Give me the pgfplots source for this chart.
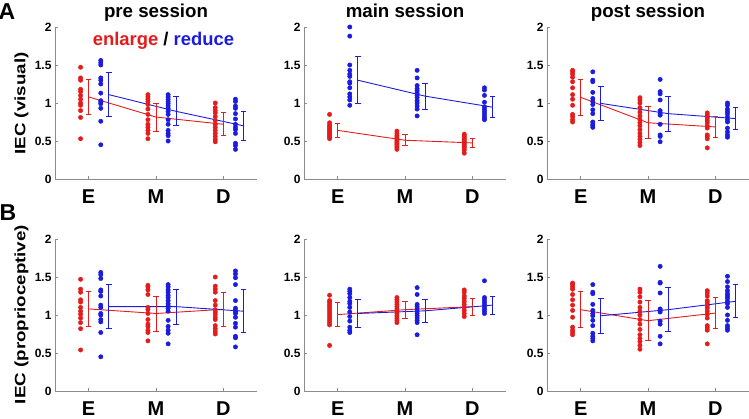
\documentclass[border=0pt]{standalone}
\usepackage{fontspec}
\setmainfont{Liberation Sans}
\usepackage{graphicx}
\usepackage{pgfplots}
\pgfplotsset{compat=1.18}

\definecolor{cR}{RGB}{228,28,28}
\definecolor{cB}{RGB}{28,28,222}
\definecolor{ax}{RGB}{140,140,140}

\newcommand{\fs}[1]{\bfseries\fontsize{#1}{#1}\selectfont}

% one column of subject dots
\newcommand{\grp}[3]{\addplot[only marks, mark=*, mark size=2.2pt, color=#1]
  table[header=false, row sep=\\, x expr=#2, y index=0] {#3};}
% line through the group means
\newcommand{\mline}[2]{\addplot[color=#1, line width=0.9pt, mark=none] coordinates {#2};}
% sd bar: colour, x, low end, high end
\newcommand{\sd}[4]{\addplot[color=#1, line width=0.9pt, mark=-, mark size=2.8pt,
  mark options={solid, line width=0.9pt}] coordinates {(#2,#3) (#2,#4)};}

\pgfplotsset{
  panel/.style={
    scale only axis, width=202pt, height=152pt,
    xmin=0.5, xmax=3.5, ymin=0, ymax=2, clip=false,
    axis lines*=left, axis line style={draw=ax, line width=0.7pt, -},
    xtick={1,2,3}, xticklabels={E,M,D},
    ytick={0,0.5,1,1.5,2}, yticklabels={0,0.5,1,1.5,2},
    tick align=inside, major tick length=3pt,
    tick style={draw=ax, line width=0.6pt},
    xticklabel style={font=\fs{20}, anchor=base, inner sep=0.5pt, yshift=-24pt},
    yticklabel style={font=\fs{12}},
    every axis title/.style={at={(0.5,1)}, anchor=base, yshift=9pt, font=\fs{18.7}},
  },
}

\begin{document}
\begin{tikzpicture}
\useasboundingbox (0,0) rectangle (749pt,418pt);

% ---------- A: visual ----------
\begin{axis}[panel, at={(55pt,239pt)}, anchor=south west, title={pre session}]
\grp{cR}{0.88}{1.47\\1.33\\1.30\\1.18\\1.15\\1.10\\1.05\\1.00\\0.97\\0.90\\0.81\\0.53\\}
\grp{cB}{1.18}{1.56\\1.53\\1.50\\1.33\\1.30\\1.25\\1.13\\1.03\\1.01\\0.99\\0.93\\0.76\\0.45\\}
\grp{cR}{1.88}{1.11\\1.08\\1.05\\1.02\\0.98\\0.92\\0.85\\0.78\\0.72\\0.68\\0.64\\0.60\\0.53\\}
\grp{cB}{2.18}{1.11\\1.08\\1.05\\1.02\\0.99\\0.96\\0.93\\0.89\\0.85\\0.78\\0.72\\0.64\\0.60\\0.57\\0.50\\}
\grp{cR}{2.88}{1.00\\0.94\\0.90\\0.87\\0.82\\0.77\\0.72\\0.68\\0.64\\0.60\\0.56\\0.52\\0.49\\}
\grp{cB}{3.18}{1.05\\1.02\\0.96\\0.93\\0.86\\0.79\\0.72\\0.68\\0.65\\0.60\\0.47\\0.44\\0.39\\}
\mline{cR}{(1,1.08) (2,0.815) (3,0.72)}
\mline{cB}{(1.3,1.11) (2.3,0.89) (3.3,0.70)}
\sd{cR}{1}{0.85}{1.31} \sd{cR}{2}{0.63}{1.00} \sd{cR}{3}{0.57}{0.87}
\sd{cB}{1.3}{0.82}{1.40} \sd{cB}{2.3}{0.70}{1.08} \sd{cB}{3.3}{0.51}{0.89}
\node[font=\fs{18.4}, anchor=base] at (rel axis cs:0.537,0.875)
  {\textcolor{cR}{enlarge} / \textcolor{cB}{reduce}};
\end{axis}

\begin{axis}[panel, at={(304pt,239pt)}, anchor=south west, title={main session}]
\grp{cR}{0.88}{0.85\\0.74\\0.71\\0.69\\0.67\\0.65\\0.63\\0.61\\0.59\\0.57\\0.55\\0.53\\}
\grp{cB}{1.18}{2.00\\1.88\\1.50\\1.43\\1.38\\1.35\\1.28\\1.26\\1.20\\1.12\\1.08\\1.04\\0.97\\}
\grp{cR}{1.88}{0.63\\0.60\\0.57\\0.55\\0.53\\0.51\\0.49\\0.47\\0.45\\0.43\\0.41\\0.39\\}
\grp{cB}{2.18}{1.43\\1.33\\1.23\\1.19\\1.16\\1.13\\1.10\\1.07\\1.03\\1.00\\0.96\\0.92\\0.83\\}
\grp{cR}{2.88}{0.59\\0.57\\0.55\\0.53\\0.51\\0.49\\0.47\\0.45\\0.43\\0.41\\0.38\\0.34\\}
\grp{cB}{3.18}{1.20\\1.17\\1.10\\1.01\\0.95\\0.92\\0.89\\0.86\\0.83\\0.80\\0.78\\}
\mline{cR}{(1,0.64) (2,0.51) (3,0.475)}
\mline{cB}{(1.3,1.30) (2.3,1.09) (3.3,0.945)}
\sd{cR}{1}{0.55}{0.73} \sd{cR}{2}{0.44}{0.58} \sd{cR}{3}{0.41}{0.54}
\sd{cB}{1.3}{0.99}{1.61} \sd{cB}{2.3}{0.92}{1.26} \sd{cB}{3.3}{0.81}{1.08}
\end{axis}

\begin{axis}[panel, at={(547pt,239pt)}, anchor=south west, title={post session}]
\grp{cR}{0.88}{1.43\\1.41\\1.38\\1.34\\1.28\\1.20\\1.11\\1.05\\0.97\\0.85\\0.82\\0.78\\0.75\\}
\grp{cB}{1.18}{1.41\\1.30\\1.28\\1.14\\1.06\\1.02\\0.98\\0.91\\0.86\\0.75\\0.72\\0.70\\0.68\\}
\grp{cR}{1.88}{1.07\\1.04\\1.00\\0.94\\0.88\\0.83\\0.78\\0.74\\0.70\\0.65\\0.60\\0.56\\0.52\\0.48\\0.44\\}
\grp{cB}{2.18}{1.31\\1.15\\1.12\\1.04\\0.90\\0.86\\0.84\\0.72\\0.58\\0.56\\0.49\\}
\grp{cR}{2.88}{0.87\\0.84\\0.80\\0.77\\0.74\\0.70\\0.67\\0.58\\0.56\\0.53\\0.41\\}
\grp{cB}{3.18}{1.00\\0.97\\0.92\\0.89\\0.86\\0.82\\0.78\\0.75\\0.67\\0.62\\0.58\\0.55\\}
\mline{cR}{(1,1.075) (2,0.74) (3,0.685)}
\mline{cB}{(1.3,0.995) (2.3,0.86) (3.3,0.795)}
\sd{cR}{1}{0.84}{1.31} \sd{cR}{2}{0.53}{0.95} \sd{cR}{3}{0.55}{0.82}
\sd{cB}{1.3}{0.77}{1.22} \sd{cB}{2.3}{0.63}{1.09} \sd{cB}{3.3}{0.65}{0.94}
\end{axis}

% ---------- B: proprioceptive ----------
\begin{axis}[panel, at={(55pt,27pt)}, anchor=south west]
\grp{cR}{0.88}{1.47\\1.34\\1.30\\1.20\\1.17\\1.10\\1.05\\1.01\\0.96\\0.90\\0.82\\0.54\\}
\grp{cB}{1.18}{1.56\\1.53\\1.48\\1.33\\1.31\\1.25\\1.13\\1.10\\1.02\\1.00\\0.94\\0.91\\0.77\\0.45\\}
\grp{cR}{1.88}{1.39\\1.37\\1.33\\1.27\\1.10\\1.07\\1.02\\0.94\\0.88\\0.85\\0.80\\0.77\\0.66\\}
\grp{cB}{2.18}{1.40\\1.37\\1.33\\1.30\\1.26\\1.23\\1.19\\1.15\\1.12\\1.09\\1.05\\0.93\\0.85\\0.80\\0.76\\0.62\\}
\grp{cR}{2.88}{1.50\\1.38\\1.34\\1.30\\1.19\\1.13\\1.07\\1.04\\1.01\\0.97\\0.94\\0.86\\0.82\\0.78\\0.75\\}
\grp{cB}{3.18}{1.58\\1.54\\1.49\\1.40\\1.19\\1.09\\1.06\\1.04\\1.02\\0.97\\0.89\\0.84\\0.72\\0.70\\0.58\\}
\mline{cR}{(1,1.08) (2,1.02) (3,1.075)}
\mline{cB}{(1.3,1.11) (2.3,1.11) (3.3,1.05)}
\sd{cR}{1}{0.85}{1.31} \sd{cR}{2}{0.79}{1.25} \sd{cR}{3}{0.85}{1.30}
\sd{cB}{1.3}{0.82}{1.40} \sd{cB}{2.3}{0.88}{1.34} \sd{cB}{3.3}{0.77}{1.33}
\end{axis}

\begin{axis}[panel, at={(304pt,27pt)}, anchor=south west]
\grp{cR}{0.88}{1.26\\1.19\\1.17\\1.14\\1.11\\1.08\\1.05\\1.02\\0.99\\0.96\\0.93\\0.90\\0.87\\0.60\\}
\grp{cB}{1.18}{1.34\\1.31\\1.28\\1.23\\1.18\\1.15\\1.10\\1.04\\0.98\\0.92\\0.84\\0.80\\0.77\\}
\grp{cR}{1.88}{1.23\\1.20\\1.17\\1.14\\1.11\\1.08\\1.05\\1.02\\0.99\\0.96\\0.93\\0.90\\}
\grp{cB}{2.18}{1.36\\1.27\\1.14\\1.11\\1.08\\1.05\\1.02\\0.99\\0.96\\0.93\\0.90\\0.74\\}
\grp{cR}{2.88}{1.33\\1.30\\1.25\\1.22\\1.18\\1.14\\1.10\\1.06\\1.02\\0.98\\}
\grp{cB}{3.18}{1.45\\1.23\\1.20\\1.17\\1.14\\1.11\\1.08\\1.05\\1.02\\}
\mline{cR}{(1,1.005) (2,1.07) (3,1.11)}
\mline{cB}{(1.3,1.02) (2.3,1.055) (3.3,1.13)}
\sd{cR}{1}{0.85}{1.16} \sd{cR}{2}{0.96}{1.18} \sd{cR}{3}{1.00}{1.22}
\sd{cB}{1.3}{0.83}{1.21} \sd{cB}{2.3}{0.90}{1.21} \sd{cB}{3.3}{1.01}{1.25}
\end{axis}

\begin{axis}[panel, at={(547pt,27pt)}, anchor=south west]
\grp{cR}{0.88}{1.42\\1.40\\1.37\\1.34\\1.27\\1.20\\1.13\\1.06\\0.97\\0.84\\0.80\\0.77\\0.74\\}
\grp{cB}{1.18}{1.40\\1.30\\1.28\\1.14\\1.06\\1.02\\0.99\\0.93\\0.86\\0.76\\0.72\\0.69\\0.66\\}
\grp{cR}{1.88}{1.34\\1.30\\1.24\\1.17\\1.10\\1.05\\1.00\\0.94\\0.88\\0.81\\0.74\\0.69\\0.65\\0.60\\0.55\\}
\grp{cB}{2.18}{1.64\\1.43\\1.42\\1.29\\1.08\\1.06\\1.04\\0.92\\0.88\\0.72\\0.62\\}
\grp{cR}{2.88}{1.32\\1.29\\1.25\\1.19\\1.16\\1.12\\1.09\\1.05\\1.01\\0.96\\0.86\\0.83\\0.80\\0.62\\}
\grp{cB}{3.18}{1.51\\1.44\\1.37\\1.32\\1.28\\1.25\\1.22\\1.18\\1.15\\1.10\\1.00\\0.93\\0.86\\0.83\\0.80\\}
\mline{cR}{(1,1.07) (2,0.925) (3,1.025)}
\mline{cB}{(1.3,0.99) (2.3,1.07) (3.3,1.18)}
\sd{cR}{1}{0.83}{1.31} \sd{cR}{2}{0.66}{1.19} \sd{cR}{3}{0.82}{1.23}
\sd{cB}{1.3}{0.76}{1.22} \sd{cB}{2.3}{0.79}{1.36} \sd{cB}{3.3}{0.97}{1.40}
\end{axis}

% panel letters and row labels
\node[font=\fs{23}, anchor=base] at (7pt,398pt) {A};
\node[font=\fs{23}, anchor=base] at (8pt,197pt) {B};
\node[font=\fs{15}, rotate=90] at (21.5pt,314.5pt) {\scalebox{1.25}[1]{IEC (visual)}};
\node[font=\fs{15}, rotate=90] at (21.5pt,103.5pt) {\scalebox{1.25}[1]{IEC (proprioceptive)}};
\end{tikzpicture}
\end{document}
